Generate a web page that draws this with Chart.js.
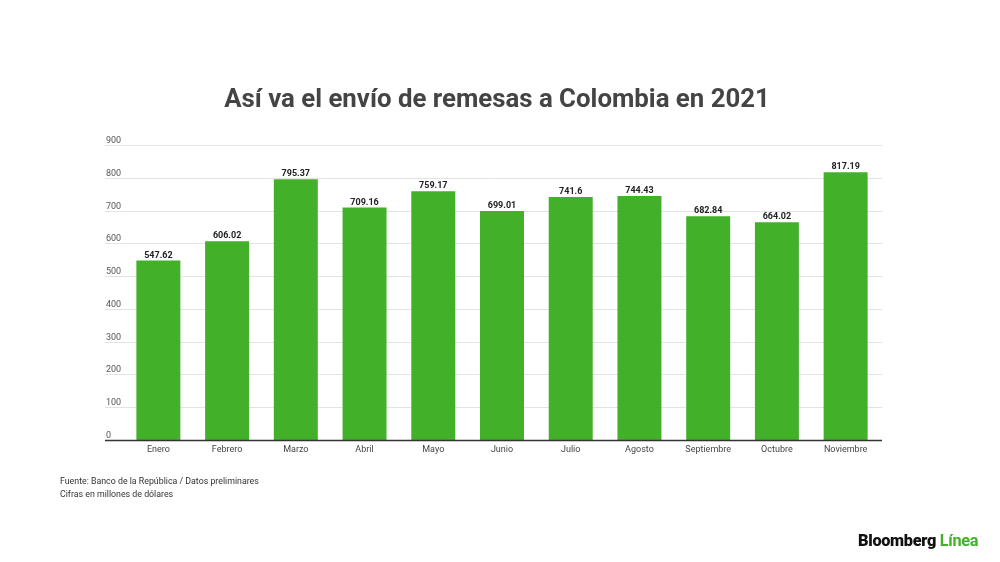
<!DOCTYPE html>
<html>
<head>
<meta charset="utf-8">
<script src="https://cdn.jsdelivr.net/npm/chart.js@4.4.0/dist/chart.umd.min.js"></script>
<style>
  body { margin: 0; background: #fff; font-family: Roboto, sans-serif; }
  #wrap { position: relative; width: 1000px; height: 562px; }
  #title { position: absolute; left: 0; width: 994px; top: 83px; text-align: center;
           font-size: 25.8px; font-weight: bold; color: #444; }
  #notes { position: absolute; left: 60px; top: 475px; font-size: 8.8px; color: #333; line-height: 13px; }
  #logo { position: absolute; left: 858px; top: 531px; font-size: 16.3px; font-weight: 900; color: #111; letter-spacing: -0.3px; }
  #logo span { color: #43b02a; font-weight: 700; }
</style>
</head>
<body>
<div id="wrap">
  <div id="title">Así va el envío de remesas a Colombia en 2021</div>
  <canvas id="myChart" width="1000" height="562"></canvas>
  <div id="notes">Fuente: Banco de la República / Datos preliminares<br>Cifras en millones de dólares</div>
  <div id="logo">Bloomberg <span>Línea</span></div>
</div>
<script>
// data
var months = ["Enero", "Febrero", "Marzo", "Abril", "Mayo", "Junio", "Julio", "Agosto", "Septiembre", "Octubre", "Noviembre"];
var amounts = [547.62, 606.02, 795.37, 709.16, 759.17, 699.01, 741.6, 744.43, 682.84, 664.02, 817.19];
var yTicks = [0, 100, 200, 300, 400, 500, 600, 700, 800, 900];

// grid lines + y labels drawn from the y scale
const gridPlugin = {
  id: "grid",
  beforeDatasetsDraw(chart) {
    const ctx = chart.ctx;
    const y = chart.scales.y;
    ctx.save();
    for (var i = 0; i < yTicks.length; i++) {
      let py = Math.round(y.getPixelForValue(yTicks[i])) + 0.5;
      if (yTicks[i] > 0) {
        ctx.strokeStyle = "#e3e3e3";
        ctx.lineWidth = 1;
        ctx.beginPath();
        ctx.moveTo(105, py);
        ctx.lineTo(882, py);
        ctx.stroke();
      }
      ctx.fillStyle = "#555";
      ctx.font = "9px Roboto";
      ctx.textBaseline = "alphabetic";
      ctx.fillText(yTicks[i], 106, py - 3);
    }
    ctx.restore();
  },
  afterDatasetsDraw(chart) {
    const ctx = chart.ctx;
    const y = chart.scales.y;
    let py = y.getPixelForValue(0) + 0.5;
    ctx.save();
    ctx.strokeStyle = "#333";
    ctx.lineWidth = 1.5;
    ctx.beginPath();
    ctx.moveTo(105, py);
    ctx.lineTo(882, py);
    ctx.stroke();
    // value labels
    const bars = chart.getDatasetMeta(0).data;
    ctx.fillStyle = "#222";
    ctx.font = "bold 9px Roboto";
    ctx.textAlign = "center";
    ctx.textBaseline = "alphabetic";
    for (var i = 0; i < bars.length; i++) {
      ctx.fillText(amounts[i], bars[i].x, bars[i].y - 3);
    }
    ctx.restore();
  }
};

new Chart("myChart", {
  type: "bar",
  data: {
    labels: months,
    datasets: [{
      data: amounts,
      backgroundColor: "#43b02a",
      categoryPercentage: 1,
      barPercentage: 0.64
    }]
  },
  options: {
    responsive: false,
    animation: false,
    layout: { padding: { left: 124, right: 120, top: 145, bottom: 92 } },
    plugins: {
      legend: { display: false },
      tooltip: { enabled: false }
    },
    scales: {
      x: {
        grid: { display: false, tickLength: 0 },
        border: { display: false },
        ticks: { color: "#444", font: { family: "Roboto", size: 9 }, padding: 4, maxRotation: 0 },
        afterFit(scale) { scale.height = 30; }
      },
      y: {
        display: false,
        min: 0,
        max: 900
      }
    }
  },
  plugins: [gridPlugin]
});
</script>
</body>
</html>
